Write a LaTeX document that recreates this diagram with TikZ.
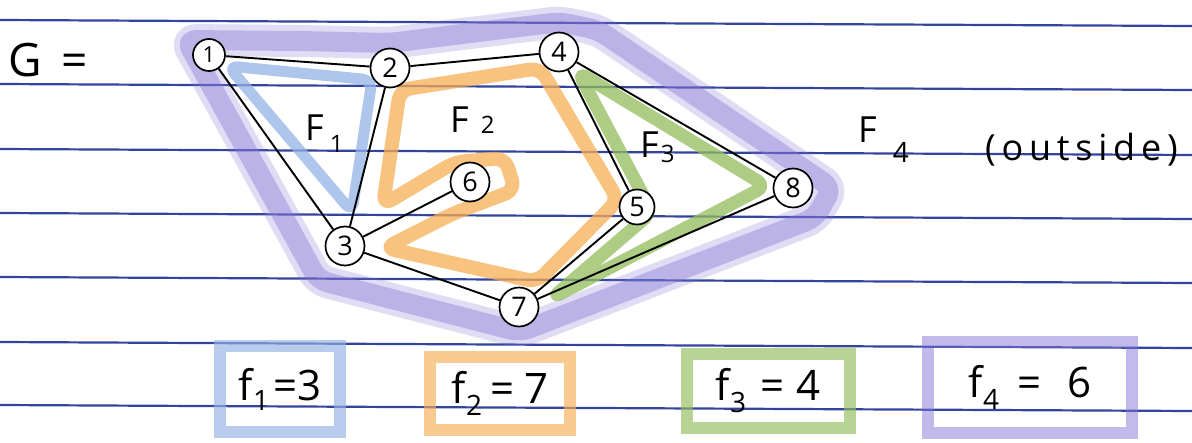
\documentclass[tikz,border=0pt]{standalone}
\usepackage{fontspec}
\setmainfont{Open Sans}
\definecolor{paperline}{HTML}{33449E}
\definecolor{faceblue}{HTML}{94B2E6}
\definecolor{faceorange}{HTML}{F6AE55}
\definecolor{facegreen}{HTML}{93BD5C}
\definecolor{facepurple}{HTML}{8577D6}
\begin{document}
\begin{tikzpicture}[x=1pt,y=-1pt,
  vtx/.style={circle, draw=black, line width=1.7pt, fill=white, minimum size=39pt, inner sep=0pt, font=\fontsize{27}{27}\selectfont},
  edge/.style={line width=1.9pt, black},
  crayon/.style={line join=round, line cap=round, rounded corners=10pt},
  lbl/.style={anchor=base west, inner sep=0pt, font=\fontsize{36}{36}\selectfont},
  facebox/.style={draw, line width=12pt, draw opacity=0.65, inner sep=0pt,
     font=\fontsize{42}{42}\selectfont}
]
\useasboundingbox (0,0) rectangle (1192,442);
\fill[white] (0,0) rectangle (1192,442);
% ruled paper
\foreach \yy in {20,84,149,213,277,342,405}
  \draw[paperline, line width=2.2pt] (0,\yy) -- (1192,{\yy+6});

% outer face F4
\draw[crayon, facepurple, line width=32pt, opacity=0.25]
  (186,40) -- (300,41) -- (390,43) -- (470,33) -- (560,22) -- (598,30)
  -- (832,188) -- (815,218) -- (520,332) -- (318,280) -- (295,238) -- cycle;
\draw[crayon, facepurple, line width=20pt, opacity=0.4]
  (186,40) -- (300,41) -- (390,43) -- (470,33) -- (560,22) -- (598,30)
  -- (832,188) -- (815,218) -- (520,332) -- (318,280) -- (295,238) -- cycle;
% face F1
\draw[crayon, faceblue, line width=11pt, opacity=0.75]
  (228,66) -- (372,80) -- (352,212) -- cycle;
% face F2
\draw[crayon, faceorange, line width=14pt, opacity=0.75]
  (400,90) -- (540,68) -- (618,200) -- (537,282) -- (385,248) -- (452,214)
  -- (515,190) -- (505,158) -- (455,162) -- (383,205) -- cycle;
% face F3
\draw[crayon, facegreen, line width=13pt, opacity=0.75]
  (578,72) -- (766,186) -- (552,298) -- (652,212) -- cycle;

% vertices
\node[vtx, minimum size=32pt, font=\fontsize{22}{22}\selectfont] (n1) at (209,55) {1};
\node[vtx] (n2) at (390,68) {2};
\node[vtx] (n4) at (559,52) {4};
\node[vtx] (n3) at (345,246) {3};
\node[vtx] (n6) at (470,182) {6};
\node[vtx, minimum size=35pt] (n5) at (637,207) {5};
\node[vtx] (n8) at (793,188) {8};
\node[vtx] (n7) at (519,307) {7};

% edges
\draw[edge] (n1) -- (n2);
\draw[edge] (n2) -- (n4);
\draw[edge] (n1) -- (n3);
\draw[edge] (n2) -- (n3);
\draw[edge] (n3) -- (n6);
\draw[edge] (n3) -- (n7);
\draw[edge] (n4) -- (n5);
\draw[edge] (n4) -- (n8);
\draw[edge] (n5) -- (n7);
\draw[edge] (n7) -- (n8);

% labels
\node[lbl, font=\fontsize{46}{46}\selectfont] (G) at (8,76) {G\hspace{20pt}=};
\node[lbl] (F1) at (305,140) {F\hspace{6pt}\raisebox{-12pt}{\fontsize{24}{24}\selectfont 1}};
\node[lbl] (F2) at (450,132) {F\hspace{12pt}\raisebox{-1pt}{\fontsize{24}{24}\selectfont 2}};
\node[lbl] (F3) at (640,157) {F\hspace{2pt}\raisebox{-5pt}{\fontsize{24}{24}\selectfont 3}};
\node[lbl] (F4) at (858,142) {F\hspace{16pt}\raisebox{-20pt}{\fontsize{28}{28}\selectfont 4}};
\node[lbl, font=\fontsize{36}{36}\selectfont\addfontfeature{LetterSpace=16}] (out) at (985,160) {(outside)};

% face counts
\node[facebox, draw=faceblue, minimum width=120pt, minimum height=86pt] (b1) at (280,389)
  {f\raisebox{-10pt}{\fontsize{28}{28}\selectfont 1}\hspace{4pt}=3};
\node[facebox, draw=faceorange, minimum width=140pt, minimum height=73pt] (b2) at (500,393)
  {f\raisebox{-12pt}{\fontsize{28}{28}\selectfont 2}\hspace{8pt}=\hspace{10pt}7};
\node[facebox, draw=facegreen, minimum width=163pt, minimum height=74pt] (b3) at (768,391)
  {f\raisebox{-12pt}{\fontsize{28}{28}\selectfont 3}\hspace{14pt}=\hspace{12pt}4};
\node[facebox, draw=facepurple, draw opacity=0.5, minimum width=204pt, minimum height=91pt] (b4) at (1030,387)
  {f\raisebox{-12pt}{\fontsize{28}{28}\selectfont 4}\hspace{18pt}=\hspace{26pt}6};
\end{tikzpicture}
\end{document}
